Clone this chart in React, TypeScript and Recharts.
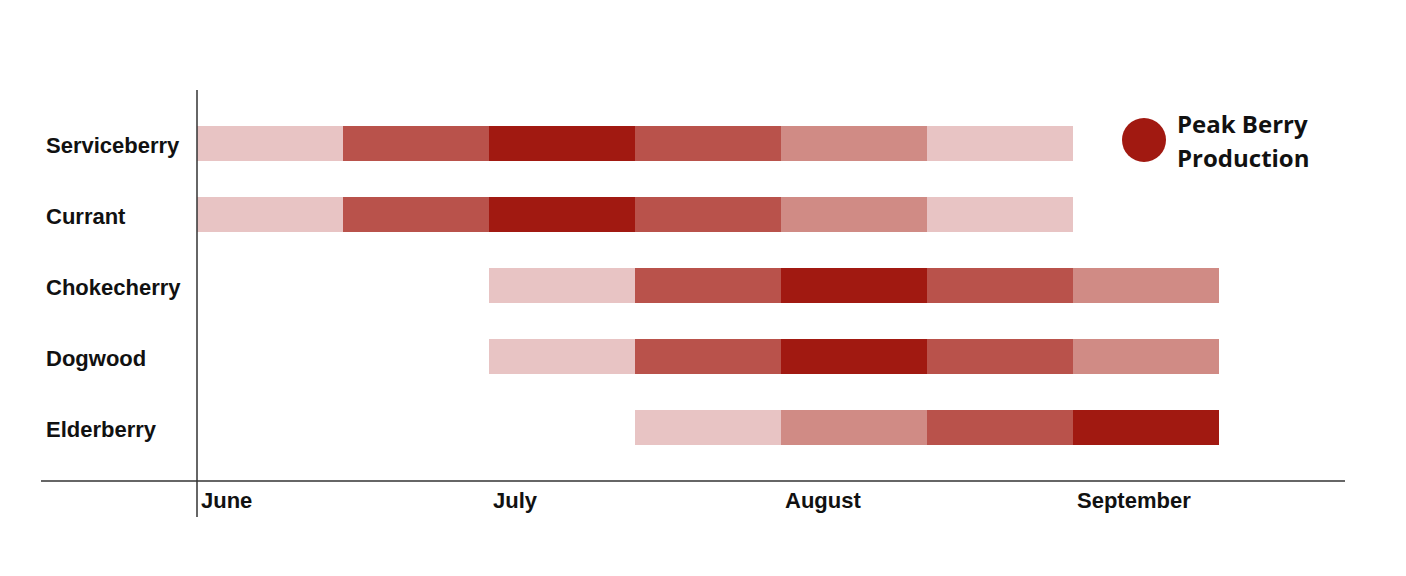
import { Bar, BarChart, Cell, ReferenceLine, XAxis, YAxis } from "recharts";

// half-month intensity: 0 = none, 1 light, 2 moderate, 3 high, 4 peak
const berries = ["Serviceberry", "Currant", "Chokecherry", "Dogwood", "Elderberry"];
const serviceberry = [1, 3, 4, 3, 2, 1, 0];
const currant = [1, 3, 4, 3, 2, 1, 0];
const chokecherry = [0, 0, 1, 3, 4, 3, 2];
const dogwood = [0, 0, 1, 3, 4, 3, 2];
const elderberry = [0, 0, 0, 1, 2, 3, 4];
const monthTicks = [0, 2, 4, 6];
const monthLabels = ["June", "July", "August", "September"];

const levels = [serviceberry, currant, chokecherry, dogwood, elderberry];
const periods = [0, 1, 2, 3, 4, 5, 6];
const shades = ["transparent", "#E8C4C4", "#D08B85", "#B9524B", "#A11911"];

const data = berries.map((name) => {
  const row: Record<string, number | string> = { name };
  periods.forEach((p) => {
    row[`p${p}`] = 1;
  });
  return row;
});

const FONT = "'Liberation Sans', Arial, sans-serif";

const YTick = ({ y, payload }: any) => (
  <text x={46} y={y + 2} dy="0.36em" textAnchor="start" fontFamily={FONT} fontWeight={700} fontSize={22} fill="#111">
    {payload.value}
  </text>
);

const XTick = ({ x, y, payload }: any) => (
  <text x={x + 4} y={y + 19} textAnchor="start" fontFamily={FONT} fontWeight={700} fontSize={22} fill="#111">
    {monthLabels[monthTicks.indexOf(payload.value)]}
  </text>
);

// y axis runs a little past the x axis, and the x axis runs left under the labels
const AxisFrame = ({ x1, y1, y2 }: any) => {
  const top = Math.min(y1, y2);
  const bottom = Math.max(y1, y2);
  return (
    <g stroke="#333" strokeWidth={1.5}>
      <line x1={x1} y1={top} x2={x1} y2={bottom + 36} />
      <line x1={x1 - 156} y1={bottom} x2={x1} y2={bottom} />
    </g>
  );
};

export default function App() {
  return (
    <div style={{ position: "absolute", left: 0, top: 0, width: 1406, height: 576, background: "#fff" }}>
      <BarChart
        width={1406}
        height={576}
        data={data}
        layout="vertical"
        margin={{ top: 90, right: 61, bottom: 65, left: 0 }}
        barCategoryGap={0}
      >
        <XAxis
          type="number"
          domain={[0, 7.863]}
          ticks={monthTicks}
          tick={<XTick />}
          tickLine={false}
          axisLine={{ stroke: "#333", strokeWidth: 1.5 }}
          height={30}
          allowDataOverflow
        />
        <YAxis
          type="category"
          dataKey="name"
          width={197}
          tick={<YTick />}
          tickLine={false}
          axisLine={false}
          padding={{ top: 18, bottom: 18 }}
        />
        {periods.map((p) => (
          <Bar key={p} dataKey={`p${p}`} stackId="a" barSize={35} isAnimationActive={false}>
            {levels.map((lv, i) => (
              <Cell key={i} fill={shades[lv[p]]} />
            ))}
          </Bar>
        ))}
        <ReferenceLine x={0} shape={<AxisFrame />} />
      </BarChart>
      <div style={{ position: "absolute", left: 1122, top: 118, display: "flex", alignItems: "center" }}>
        <div style={{ width: 44, height: 44, borderRadius: 22, background: "#A11911" }} />
      </div>
      <div
        style={{
          position: "absolute",
          left: 1177,
          top: 107,
          fontFamily: "'Open Sans', sans-serif",
          fontWeight: 700,
          fontSize: 24,
          lineHeight: "34px",
          color: "#111",
        }}
      >
        Peak Berry
        <br />
        Production
      </div>
    </div>
  );
}
